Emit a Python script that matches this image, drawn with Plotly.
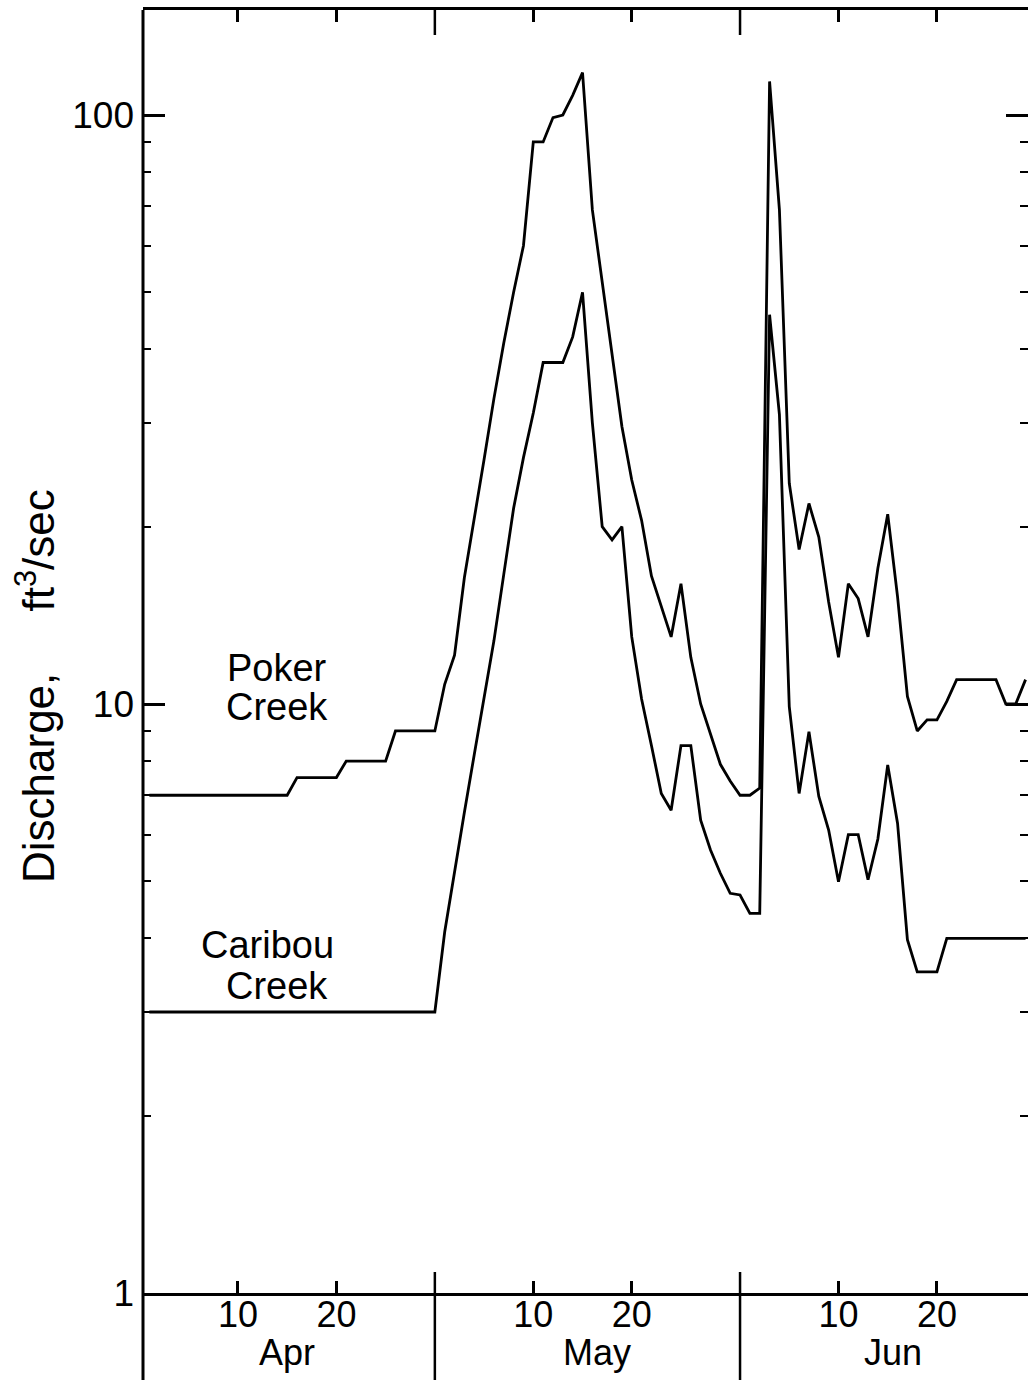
import plotly.graph_objects as go

# Day of the season: 1 = 1 April, 31 = 1 May, 62 = 1 June
days = list(range(1, 91))

# Daily mean discharge, ft^3/sec
poker_creek = [
    7.0, 7.0, 7.0, 7.0, 7.0, 7.0, 7.0, 7.0, 7.0, 7.0,
    7.0, 7.0, 7.0, 7.0, 7.0, 7.5, 7.5, 7.5, 7.5, 7.5,
    8.0, 8.0, 8.0, 8.0, 8.0, 9.0, 9.0, 9.0, 9.0, 9.0,
    10.8, 12.1, 16.4, 20.5, 26, 33, 41, 50, 60, 90,
    90, 99, 100, 108, 118, 69, 52, 40, 29.6, 24,
    20.5, 16.5, 14.6, 13, 16, 12, 10, 8.9, 7.9, 7.4,
    7.0, 7.0, 7.2, 114, 69, 23.7, 18.3, 21.9, 19.2, 14.9,
    12, 16, 15.1, 13, 17, 21, 15.2, 10.3, 9.0, 9.4,
    9.4, 10.1, 11, 11, 11, 11, 11, 10, 10, 11,
]
caribou_creek = [
    3.0, 3.0, 3.0, 3.0, 3.0, 3.0, 3.0, 3.0, 3.0, 3.0,
    3.0, 3.0, 3.0, 3.0, 3.0, 3.0, 3.0, 3.0, 3.0, 3.0,
    3.0, 3.0, 3.0, 3.0, 3.0, 3.0, 3.0, 3.0, 3.0, 3.0,
    4.1, 5.2, 6.55, 8.2, 10.3, 12.8, 16.6, 21.5, 26.2, 31.2,
    38, 38, 38, 42, 50, 30, 20, 19, 20, 13,
    10.2, 8.5, 7.05, 6.6, 8.5, 8.5, 6.35, 5.65, 5.16, 4.77,
    4.74, 4.41, 4.41, 45.8, 31, 9.9, 7.05, 8.97, 6.97, 6.11,
    4.99, 6.0, 6.0, 5.03, 5.9, 7.88, 6.27, 3.98, 3.51, 3.51,
    3.51, 4.0, 4.0, 4.0, 4.0, 4.0, 4.0, 4.0, 4.0, 4.0,
]

# Axis ticks
day_ticks = [10, 20, 40, 50, 71, 81]
day_tick_text = ["10", "20", "10", "20", "10", "20"]
month_ends = [30, 61]
month_names = ["Apr", "May", "Jun"]
month_centers = [15, 46.5, 76.5]
q_ticks = [1, 10, 100]
q_tick_text = ["1", "10", "100"]
q_minor = [2, 3, 4, 5, 6, 7, 8, 9, 20, 30, 40, 50, 60, 70, 80, 90]

FONT = "Liberation Sans"
INK = "black"

fig = go.Figure()
fig.add_trace(go.Scatter(x=days, y=poker_creek, mode="lines", name="Poker Creek",
                         line=dict(color=INK, width=2.8)))
fig.add_trace(go.Scatter(x=days, y=caribou_creek, mode="lines", name="Caribou Creek",
                         line=dict(color=INK, width=2.8)))

W, H = 1028, 1380
L, R, T, B = 143, 0, 10, 87
plot_w = W - L - R
plot_h = H - T - B


def px(col):
    """Pixel column -> paper x."""
    return (col - L) / plot_w


def py(row):
    """Pixel row -> paper y."""
    return (H - B - row) / plot_h


shapes = []
# left axis line running past the bottom axis
shapes.append(dict(type="line", xref="paper", yref="paper", x0=0, x1=0,
                   y0=1, y1=py(H), line=dict(color=INK, width=3)))
for m in month_ends:
    # month divider below the axis
    shapes.append(dict(type="line", xref="x", yref="paper", x0=m, x1=m,
                       y0=py(1272), y1=py(H), line=dict(color=INK, width=2.5)))
    # long tick at the top
    shapes.append(dict(type="line", xref="x", yref="paper", x0=m, x1=m,
                       y0=1, y1=py(35), line=dict(color=INK, width=2.5)))

annotations = []
for name, c in zip(month_names, month_centers):
    annotations.append(dict(x=c, y=py(1352), xref="x", yref="paper", text=name,
                            xanchor="center", yanchor="middle", showarrow=False,
                            font=dict(family=FONT, size=36, color=INK)))

label_font = dict(family=FONT, size=38, color=INK)
for text, col, row in [("Poker", 277, 668), ("Creek", 277, 707),
                       ("Caribou", 267, 945), ("Creek", 277, 986)]:
    annotations.append(dict(x=px(col), y=py(row), xref="paper", yref="paper", text=text,
                            xanchor="center", yanchor="middle", showarrow=False,
                            font=label_font))

annotations.append(dict(x=px(35), y=py(686), xref="paper", yref="paper",
                        text="Discharge,&nbsp;&nbsp;&nbsp;&nbsp;&nbsp;ft<sup>3</sup>/sec",
                        textangle=-90, xanchor="center", yanchor="middle",
                        showarrow=False, font=dict(family=FONT, size=44, color=INK)))

fig.update_layout(
    width=W, height=H,
    margin=dict(l=L, r=R, t=T, b=B, pad=0),
    paper_bgcolor="white", plot_bgcolor="white",
    showlegend=False,
    shapes=shapes,
    annotations=annotations,
    xaxis=dict(
        range=[(L - 139.5) / 9.845, (W - R - 139.5) / 9.845],
        tickmode="array", tickvals=day_ticks, ticktext=day_tick_text,
        ticks="inside", ticklen=12, tickwidth=2.5, tickcolor=INK,
        showline=True, linecolor=INK, linewidth=2.5, mirror="ticks",
        showgrid=False, zeroline=False, ticklabelstandoff=-12,
        tickfont=dict(family=FONT, size=36, color=INK),
    ),
    yaxis=dict(
        type="log", range=[0, plot_h / 589],
        tickmode="array", tickvals=q_ticks, ticktext=q_tick_text,
        ticks="inside", ticklen=22, tickwidth=2.5, tickcolor=INK,
        minor=dict(ticks="inside", ticklen=8, tickwidth=2, tickcolor=INK,
                   tickmode="array", tickvals=q_minor, showgrid=False),
        showline=False, mirror="ticks",
        showgrid=False, zeroline=False, ticklabelstandoff=8,
        tickfont=dict(family=FONT, size=37, color=INK),
    ),
)

fig.write_html("out.html")
